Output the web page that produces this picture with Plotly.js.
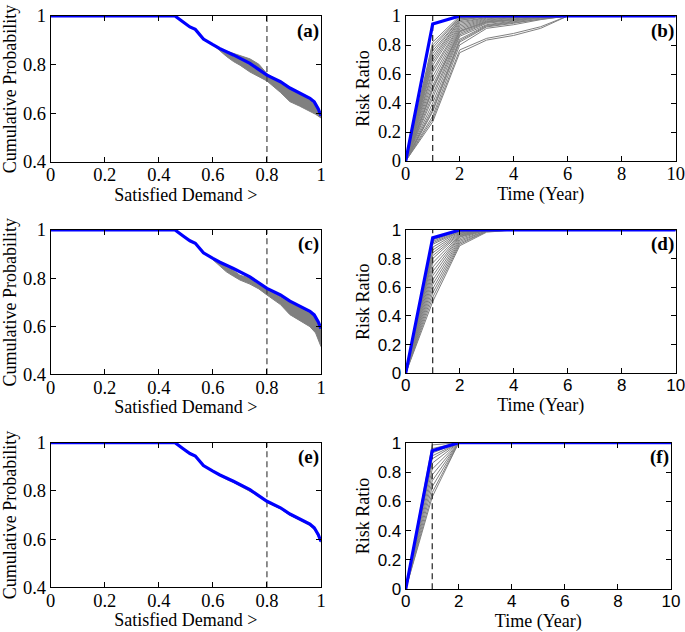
<!DOCTYPE html>
<html>
<head>
<meta charset="utf-8">
<script src="https://cdn.plot.ly/plotly-3.0.1.min.js"></script>
<style>html,body{margin:0;padding:0;background:#fff;}#chart{width:685px;height:632px;}</style>
</head>
<body>
<div id="chart"></div>
<script>
// ---------- Data: cumulative probability vs satisfied demand ----------
const demandX = [0, 0.46, 0.49, 0.515, 0.535, 0.55, 0.565, 0.6, 0.626, 0.676, 0.737, 0.8, 0.85, 0.885, 0.92, 0.959, 0.975, 0.99, 1];
const blueCumProb = [1, 1, 0.975, 0.955, 0.945, 0.925, 0.905, 0.882, 0.866, 0.840, 0.805, 0.757, 0.730, 0.704, 0.685, 0.662, 0.647, 0.618, 0.590];

const bandX  = [0.6, 0.626, 0.65, 0.676, 0.70, 0.737, 0.77, 0.8, 0.85, 0.885, 0.92, 0.959, 0.98, 1];
const aUpper = [0.882, 0.866, 0.856, 0.846, 0.836, 0.824, 0.802, 0.763, 0.728, 0.700, 0.680, 0.655, 0.630, 0.592];
const aLower = [0.882, 0.856, 0.834, 0.813, 0.798, 0.770, 0.752, 0.733, 0.686, 0.648, 0.630, 0.610, 0.596, 0.581];
const cUpper = [0.882, 0.862, 0.845, 0.832, 0.812, 0.800, 0.780, 0.752, 0.722, 0.700, 0.680, 0.655, 0.636, 0.585];
const cLower = [0.876, 0.848, 0.826, 0.808, 0.792, 0.775, 0.755, 0.730, 0.690, 0.648, 0.626, 0.598, 0.572, 0.515];
const eUpper = [0.882, 0.866, 0.852, 0.840, 0.826, 0.805, 0.783, 0.757, 0.730, 0.704, 0.685, 0.662, 0.640, 0.590];
const eLower = [0.880, 0.862, 0.848, 0.835, 0.821, 0.800, 0.778, 0.752, 0.725, 0.699, 0.680, 0.656, 0.634, 0.586];

const demandThreshold = 0.8;

// ---------- Data: risk ratio vs time ----------
const years = [0, 1, 2, 3, 4, 5, 6, 7, 8, 9, 10];
const blueRisk = [0, 0.945, 1, 1, 1, 1, 1, 1, 1, 1, 1];

// panel (b): gray scenario values at years 1..5 (0 at year 0, 1 from year 6 on)
const bT1 = [0.27, 0.29, 0.31, 0.34, 0.37, 0.40, 0.43, 0.46, 0.49, 0.52, 0.55, 0.58, 0.61, 0.63, 0.66, 0.68, 0.70, 0.72, 0.74, 0.76, 0.78, 0.80, 0.82, 0.35, 0.50];
const bT2 = [0.747, 0.766, 0.80, 0.82, 0.84, 0.86, 0.87, 0.88, 0.89, 0.90, 0.91, 0.92, 0.93, 0.94, 0.95, 0.96, 0.97, 0.97, 0.98, 0.98, 0.99, 0.99, 1.0, 0.83, 0.895];
const bT3 = [0.834, 0.846, 0.915, 0.925, 0.935, 0.94, 0.95, 0.955, 0.96, 0.965, 0.97, 0.975, 0.98, 0.985, 0.99, 0.99, 0.995, 1, 1, 1, 1, 1, 1, 0.93, 0.96];
const bT4 = [0.866, 0.880, 0.940, 0.950, 0.960, 0.965, 0.97, 0.975, 0.98, 0.985, 0.99, 0.99, 0.995, 1, 1, 1, 1, 1, 1, 1, 1, 1, 1, 0.955, 0.975];
const bT5 = [0.915, 0.926, 0.975, 0.980, 0.985, 0.99, 0.99, 0.995, 1, 1, 1, 1, 1, 1, 1, 1, 1, 1, 1, 1, 1, 1, 1, 0.98, 0.99];

// panel (d): gray scenario values at years 1..3 (1 from year 4 on)
const dT1 = [0.50, 0.53, 0.56, 0.59, 0.62, 0.65, 0.68, 0.71, 0.74, 0.77, 0.80, 0.82, 0.84, 0.86, 0.88, 0.90, 0.91, 0.92, 0.93, 0.94];
const dT2 = [0.89, 0.90, 0.91, 0.92, 0.93, 0.94, 0.95, 0.955, 0.96, 0.965, 0.97, 0.975, 0.98, 0.985, 0.99, 0.99, 0.995, 1, 1, 1];
const dT3 = [0.985, 0.99, 0.99, 0.995, 0.995, 1, 1, 1, 1, 1, 1, 1, 1, 1, 1, 1, 1, 1, 1, 1];

// panel (f): gray scenario values at year 1 (1 from year 2 on)
const fT1 = [0.63, 0.66, 0.70, 0.74, 0.78, 0.82, 0.86, 0.89, 0.91, 0.93, 0.96, 0.985];

const yearMark = 1;

// ---------- Tick labels ----------
const demandTicks = [0, 0.2, 0.4, 0.6, 0.8, 1];
const demandTickText = ['0', '0.2', '0.4', '0.6', '0.8', '1'];
const cumTicks = [0.4, 0.6, 0.8, 1];
const cumTickText = ['0.4', '0.6', '0.8', '1'];
const yearTicks = [0, 2, 4, 6, 8, 10];
const yearTickText = ['0', '2', '4', '6', '8', '10'];
const riskTicks = [0, 0.2, 0.4, 0.6, 0.8, 1];
const riskTickText = ['0', '0.2', '0.4', '0.6', '0.8', '1'];

// ---------- Build traces ----------
const SERIF = 'Liberation Serif, Times New Roman, serif';
const SANS = 'Liberation Sans, Arial, sans-serif';
const GRAY = '#808080';
const BLUE = '#0000ff';
const traces = [];

function cumPanel(xa, ya, upper, lower) {
  traces.push({x: bandX, y: upper, xaxis: xa, yaxis: ya, mode: 'lines', line: {color: GRAY, width: 1}, hoverinfo: 'skip'});
  traces.push({x: bandX, y: lower, xaxis: xa, yaxis: ya, mode: 'lines', fill: 'tonexty', fillcolor: GRAY, line: {color: GRAY, width: 1}, hoverinfo: 'skip'});
  traces.push({x: [demandThreshold, demandThreshold], y: [0.4, 1], xaxis: xa, yaxis: ya, mode: 'lines', line: {color: '#444444', width: 1.2, dash: '6px,4px'}});
  traces.push({x: demandX, y: blueCumProb, xaxis: xa, yaxis: ya, mode: 'lines', line: {color: BLUE, width: 3.2}});
}

function riskPanel(xa, ya, cols) {
  const n = cols[0].length;
  for (let i = 0; i < n; i++) {
    const ys = years.map((t) => {
      if (t === 0) return 0;
      if (t - 1 < cols.length) return cols[t - 1][i];
      return 1;
    });
    traces.push({x: years, y: ys, xaxis: xa, yaxis: ya, mode: 'lines', line: {color: GRAY, width: 1}, hoverinfo: 'skip'});
  }
  traces.push({x: [yearMark, yearMark], y: [0, 1], xaxis: xa, yaxis: ya, mode: 'lines', line: {color: '#222222', width: 1.2, dash: '6px,4px'}});
  traces.push({x: years, y: blueRisk, xaxis: xa, yaxis: ya, mode: 'lines', line: {color: BLUE, width: 3.2}});
}

cumPanel('x', 'y', aUpper, aLower);
riskPanel('x2', 'y2', [bT1, bT2, bT3, bT4, bT5]);
cumPanel('x3', 'y3', cUpper, cLower);
riskPanel('x4', 'y4', [dT1, dT2, dT3]);
cumPanel('x5', 'y5', eUpper, eLower);
riskPanel('x6', 'y6', [fT1]);

// ---------- Layout ----------
function axis(domain, range, tickvals, ticktext, fontFam, fontSize, anchor, titleText, standoff, labelShift) {
  return {
    domain: domain, range: range, anchor: anchor,
    tickmode: 'array', tickvals: tickvals, ticktext: ticktext,
    tickfont: {family: fontFam, size: fontSize, color: '#000'},
    ticklabeloverflow: 'allow',
    ticklabelstandoff: labelShift,
    ticks: 'inside', ticklen: 5, tickcolor: '#000', tickwidth: 1,
    showline: true, linecolor: '#000', linewidth: 1, mirror: 'ticks',
    showgrid: false, zeroline: false, fixedrange: true,
    title: {text: titleText, font: {family: SERIF, size: 18, color: '#000'}, standoff: standoff}
  };
}

const W = 685, H = 632;
const fx = (a, b) => [a / W, b / W];
const fy = (top, bot) => [1 - bot / H, 1 - top / H];

const L = fx(50.7, 321), R = fx(405.7, 675.7), Rf = fx(405.7, 671);

const layout = {
  width: W, height: H,
  margin: {l: 0, r: 0, t: 0, b: 0},
  paper_bgcolor: '#fff', plot_bgcolor: '#fff',
  showlegend: false,
  xaxis:  axis(L,  [0, 1],  demandTicks, demandTickText, SERIF, 18.5, 'y',  'Satisfied Demand >', 3, -4),
  yaxis:  axis(fy(16, 162), [0.4, 1], cumTicks, cumTickText, SERIF, 18.5, 'x', 'Cumulative Probability', 4, 0),
  xaxis2: axis(R,  [0, 10], yearTicks, yearTickText, SERIF, 18.5, 'y2', 'Time (Year)', 3, -4),
  yaxis2: axis(fy(16, 161), [0, 1], riskTicks, riskTickText, SERIF, 18.5, 'x2', 'Risk Ratio', 3, 0),
  xaxis3: axis(L,  [0, 1],  demandTicks, demandTickText, SERIF, 18.5, 'y3', 'Satisfied Demand >', 3, -4),
  yaxis3: axis(fy(230, 374.3), [0.4, 1], cumTicks, cumTickText, SERIF, 18.5, 'x3', 'Cumulative Probability', 4, 0),
  xaxis4: axis(R,  [0, 10], yearTicks, yearTickText, SANS, 17, 'y4', 'Time (Year)', 3, -4),
  yaxis4: axis(fy(230, 373.3), [0, 1], riskTicks, riskTickText, SANS, 17, 'x4', 'Risk Ratio', 3, 0),
  xaxis5: axis(L,  [0, 1],  demandTicks, demandTickText, SERIF, 18.5, 'y5', 'Satisfied Demand >', 3, -4),
  yaxis5: axis(fy(442.7, 587.3), [0.4, 1], cumTicks, cumTickText, SERIF, 18.5, 'x5', 'Cumulative Probability', 4, 0),
  xaxis6: axis(Rf, [0, 10], yearTicks, yearTickText, SANS, 17, 'y6', 'Time (Year)', 3, -4),
  yaxis6: axis(fy(442.7, 589.3), [0, 1], riskTicks, riskTickText, SANS, 17, 'x6', 'Risk Ratio', 3, 0),
  annotations: [['x', 'y', '(a)'], ['x2', 'y2', '(b)'], ['x3', 'y3', '(c)'], ['x4', 'y4', '(d)'], ['x5', 'y5', '(e)'], ['x6', 'y6', '(f)']].map(([xa, ya, t]) => ({
    xref: xa + ' domain', yref: ya + ' domain', x: 1.0, y: 0.9, xanchor: 'right', yanchor: 'middle',
    text: '<b>' + t + '</b>', showarrow: false, font: {family: SERIF, size: 19, color: '#000'}
  }))
};

Plotly.newPlot('chart', traces, layout, {staticPlot: true, displayModeBar: false});
</script>
</body>
</html>
